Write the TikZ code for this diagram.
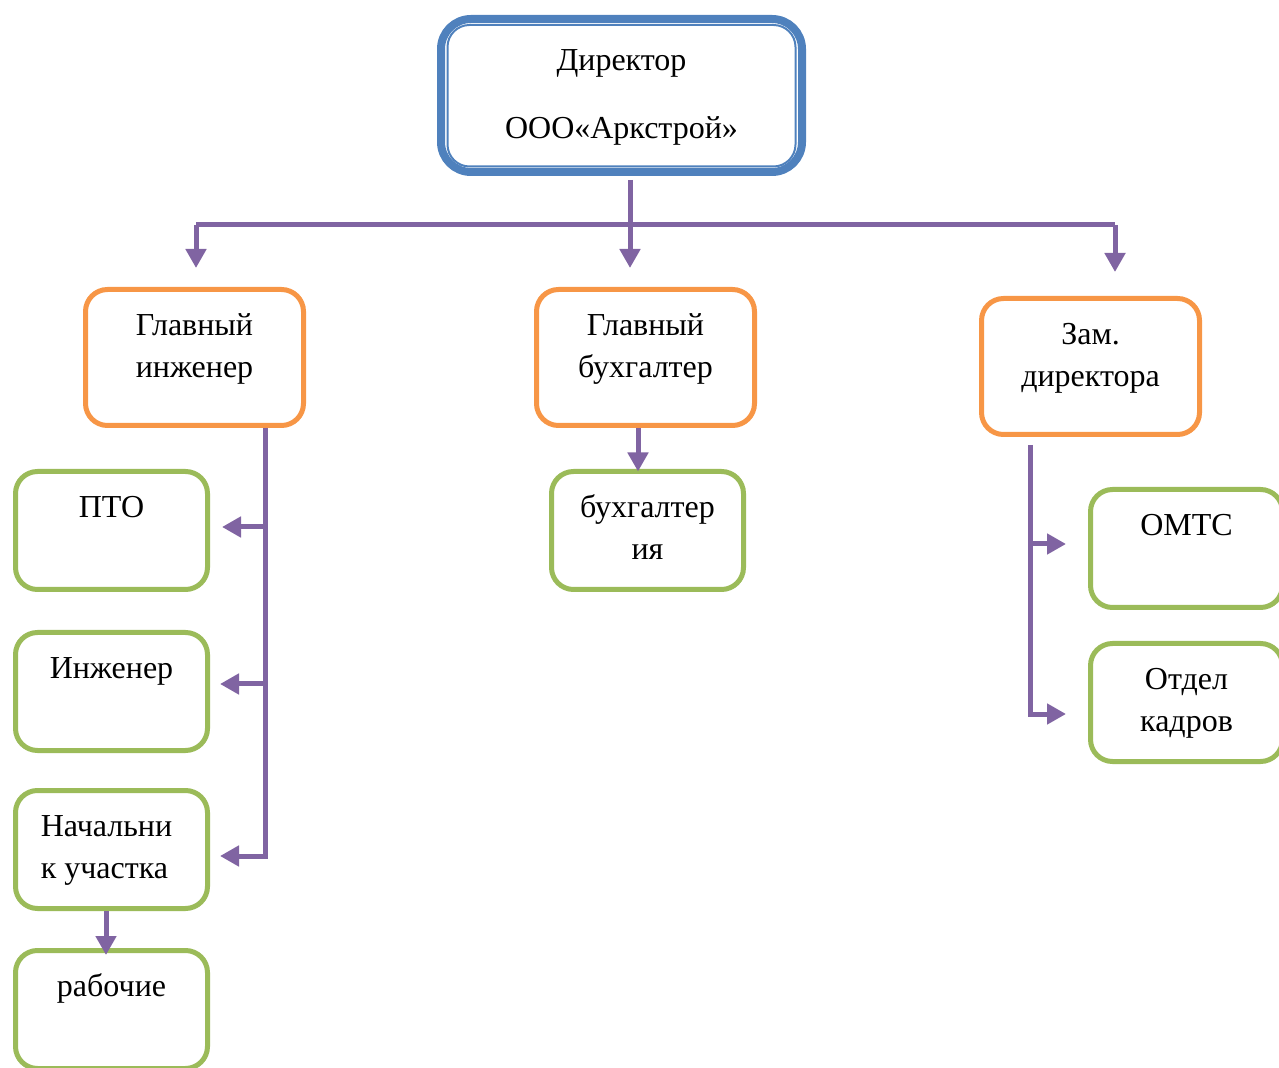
\documentclass[tikz,border=0pt]{standalone}
\usepackage{fontspec}
\setmainfont{Liberation Serif}
\usepackage{tikz}
\usetikzlibrary{arrows.meta,positioning,calc}
\definecolor{headblue}{HTML}{4F81BD}
\definecolor{chieforange}{HTML}{F79646}
\definecolor{deptgreen}{HTML}{9BBB59}
\definecolor{linkpurple}{HTML}{8064A2}
\tikzset{
    headbox/.style={draw=headblue,line width=4pt,rounded corners=15pt,
      minimum width=180.5pt,minimum height=76.5pt,inner sep=0pt,outer sep=0pt},
    chiefbox/.style={draw=chieforange,line width=2.5pt,rounded corners=11pt,
      minimum width=109pt,minimum height=68pt,inner sep=0pt,outer sep=0pt},
    deptbox/.style={draw=deptgreen,line width=2.5pt,rounded corners=11pt,
      minimum width=96pt,minimum height=59pt,inner sep=0pt,outer sep=0pt},
    boxlabel/.style={anchor=base,inner sep=0pt,align=center,
      font=\fontsize{16}{21}\selectfont},
    linkline/.style={draw=linkpurple,line width=2.5pt},
    linkarrow/.style={linkline,-{Triangle[length=9.5pt,width=10pt]}}
}

\begin{document}
\begin{tikzpicture}[x=0.5pt,y=-0.5pt]
  \useasboundingbox (0,0) rectangle (1279,1068);
  % boxes
  \node[headbox] (dir) at (621.5,95.5) {};
  \draw[headblue,line width=1pt,rounded corners=11pt]
    ([shift={(3.25pt,-3pt)}]dir.north west) rectangle ([shift={(-3.25pt,2.75pt)}]dir.south east);
  \node[chiefbox] (gi) at (194.5,357.5) {};
  \node[chiefbox] (gb) at (645.5,357.5) {};
  \node[chiefbox] (zd) at (1090.5,366.5) {};
  \node[deptbox] (pto) at (111.5,530.5) {};
  \node[deptbox] (ing) at (111.5,691.5) {};
  \node[deptbox] (nu) at (111.5,849.5) {};
  \node[deptbox] (rab) at (111.5,1009.5) {};
  \node[deptbox] (buh) at (647.5,530.5) {};
  \node[deptbox] (omts) at (1186.5,548.5) {};
  \node[deptbox] (ok) at (1186.5,702.5) {};
  % texts (base = last line)
  \node[boxlabel] (dir-t) at ([yshift=-60pt]dir.north) {Директор\\[13pt]ООО«Аркстрой»};
  \node[boxlabel] (gi-t) at ([yshift=-44pt]gi.north) {Главный\\инженер};
  \node[boxlabel] (gb-t) at ([yshift=-44pt]gb.north) {Главный\\бухгалтер};
  \node[boxlabel] (zd-t) at ([yshift=-44pt]zd.north) {Зам.\\директора};
  \node[boxlabel] (pto-t) at ([yshift=-23pt]pto.north) {ПТО};
  \node[boxlabel] (ing-t) at ([yshift=-23pt]ing.north) {Инженер};
  \node[boxlabel,align=left] (nu-t) at ([xshift=-2.5pt,yshift=-44pt]nu.north) {Начальни\\к участка};
  \node[boxlabel] (rab-t) at ([yshift=-23pt]rab.north) {рабочие};
  \node[boxlabel] (buh-t) at ([yshift=-44pt]buh.north) {бухгалтер\\ия};
  \node[boxlabel] (omts-t) at ([yshift=-23pt]omts.north) {ОМТС};
  \node[boxlabel] (ok-t) at ([yshift=-44pt]ok.north) {Отдел\\кадров};
  % connectors
  \coordinate (bus) at ([xshift=4.25pt,yshift=-26.5pt]dir.south);
  \coordinate (gi-trunk) at ([xshift=35.5pt]gi.south);
  \coordinate (zd-trunk) at ([xshift=-30.25pt]zd.south);
  \draw[linkarrow,shorten <=4pt,shorten >=10.75pt] ([xshift=4.25pt]dir.south) -- (bus |- gb.north);
  \draw[linkline] ([xshift=0.75pt]gi.north |- bus) -- ([xshift=12.25pt]zd.north |- bus);
  \draw[linkarrow,shorten >=10.75pt] ([xshift=0.75pt]gi.north |- bus) -- ([xshift=0.75pt]gi.north);
  \draw[linkarrow,shorten >=13.25pt] ([xshift=12.25pt]zd.north |- bus) -- ([xshift=12.25pt]zd.north);
  \draw[linkarrow,shorten <=1.25pt,shorten >=6.25pt] (gi-trunk) |- ([yshift=-3.25pt]nu.east);
  \draw[linkarrow,shorten >=7.25pt] ([yshift=1.75pt]pto.east -| gi-trunk) -- ([yshift=1.75pt]pto.east);
  \draw[linkarrow,shorten >=6.25pt] ([yshift=3.75pt]ing.east -| gi-trunk) -- ([yshift=3.75pt]ing.east);
  \draw[linkarrow,shorten <=1.25pt] ([xshift=-3.75pt]gb.south) -- ([xshift=-3.75pt]gb.south |- buh.north);
  \draw[linkarrow,shorten <=5.25pt,shorten >=12.25pt] (zd-trunk) |- ([yshift=-5.75pt]ok.west);
  \draw[linkarrow,shorten >=12.25pt] ([yshift=2.25pt]omts.west -| zd-trunk) -- ([yshift=2.25pt]omts.west);
  \draw[linkarrow,shorten <=1.25pt,shorten >=-2.25pt] ([xshift=-2.75pt]nu.south) -- ([xshift=-2.75pt]nu.south |- rab.north);
\end{tikzpicture}
\end{document}
